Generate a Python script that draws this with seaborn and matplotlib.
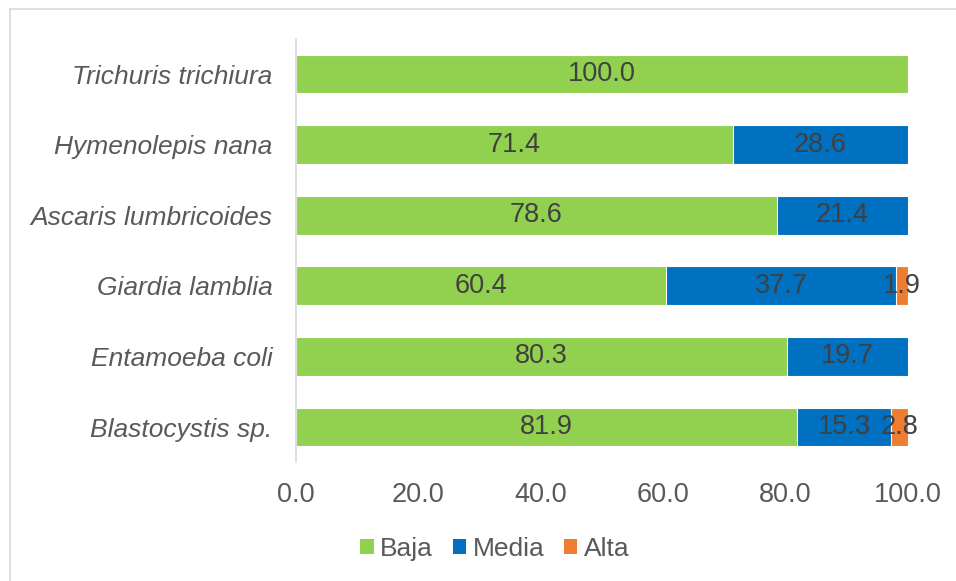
import matplotlib
matplotlib.use("Agg")
import matplotlib.pyplot as plt
from matplotlib.patches import Rectangle, Patch
import seaborn as sns
import pandas as pd

categories = ["Trichuris trichiura", "Hymenolepis nana", "Ascaris lumbricoides",
              "Giardia lamblia", "Entamoeba coli", "Blastocystis sp."]
baja = [100.0, 71.4, 78.6, 60.4, 80.3, 81.9]
media = [0.0, 28.6, 21.4, 37.7, 19.7, 15.3]
alta = [0.0, 0.0, 0.0, 1.9, 0.0, 2.8]
series_names = ["Baja", "Media", "Alta"]
colors = ["#92D050", "#0070C0", "#ED7D31"]
xticks = [0, 20, 40, 60, 80, 100]

sns.set_theme(style="white")
plt.rcParams["font.family"] = ["Liberation Sans", "DejaVu Sans"]

FS = 19.5

df = pd.DataFrame({"cat": categories, "Baja": baja, "Media": media, "Alta": alta})
df["c_media"] = df["Baja"] + df["Media"]
df["c_alta"] = df["c_media"] + df["Alta"]

fig = plt.figure(figsize=(9.56, 5.81), dpi=100)
ax = fig.add_axes([296/956, 1-462.3/581, (908-296)/956, (462.3-38.7)/581])

for col, color in zip(["c_alta", "c_media", "Baja"], colors[::-1]):
    sns.barplot(data=df, x=col, y="cat", order=categories, color=color,
                orient="h", width=0.55, saturation=1, edgecolor="white",
                linewidth=0.8, ax=ax, errorbar=None)

txt_color = "#404040"
for i, cat in enumerate(categories):
    left = 0.0
    for vals in (baja, media, alta):
        v = vals[i]
        if v > 0:
            ax.text(left + v/2, i, f"{v:.1f}", ha="center", va="center",
                    fontsize=FS, color=txt_color)
        left += v

ax.set_xlim(0, 100)
ax.set_ylim(5.5, -0.5)
ax.set_xticks(xticks)
ax.set_xticklabels([f"{t:.1f}" for t in xticks], fontsize=FS, color="#595959")
ax.set_yticklabels(categories, fontsize=19, color="#595959", style="italic")
ax.tick_params(axis="both", length=0)
ax.tick_params(axis="x", pad=14.5)
ax.tick_params(axis="y", pad=17)
ax.set_xlabel("")
ax.set_ylabel("")
for s in ["top", "right", "bottom"]:
    ax.spines[s].set_visible(False)
ax.spines["left"].set_color("#D9D9D9")
ax.spines["left"].set_linewidth(1.2)

handles = [Patch(facecolor=c, edgecolor="none", label=n) for c, n in zip(colors, series_names)]
fig.legend(handles=handles, loc="center", bbox_to_anchor=(495/956, 1-549/581),
           ncol=3, frameon=False, fontsize=19, handlelength=0.5, handleheight=0.5,
           handletextpad=0.25, columnspacing=0.75, labelcolor="#595959")

fig.patches.append(Rectangle((10/956, -0.1), 1.2, 1 - 9/581 + 0.1,
                             transform=fig.transFigure, fill=False,
                             edgecolor="#D9D9D9", linewidth=1.2))

fig.savefig("out.png", dpi=100)
